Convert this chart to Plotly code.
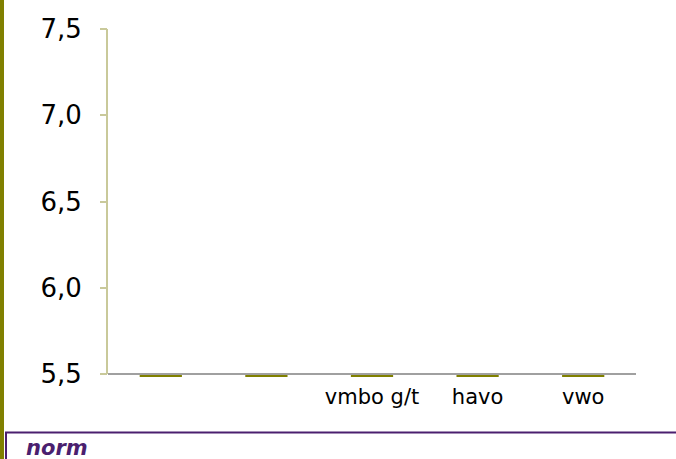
import plotly.graph_objects as go

# Data
categories = ["", "", "vmbo g/t", "havo", "vwo"]
values = [5.5, 5.5, 5.5, 5.5, 5.5]
y_ticks = [5.5, 6.0, 6.5, 7.0, 7.5]
legend_label = "norm"

W, H = 676, 459
ml, mr, mt, mb = 108, 40, 29, 82
pw = W - ml - mr
ph = H - mt - mb
y_min, y_max = 5.5, 7.5
px_per_unit = 345 / (y_max - y_min)
y_lo = y_min - 3 / px_per_unit  # a few pixels below the axis so the flat bars show under it

x_pos = list(range(len(categories)))

fig = go.Figure()
fig.add_trace(go.Bar(
    x=x_pos, y=values, width=0.4,
    marker=dict(color="#808000", line=dict(width=0)),
    showlegend=False, hoverinfo="skip",
))

fig.update_layout(
    width=W, height=H,
    margin=dict(l=ml, r=mr, t=mt, b=mb, pad=0),
    paper_bgcolor="white", plot_bgcolor="white",
    separators=",.",
    font=dict(family="DejaVu Sans, Verdana, sans-serif", color="#000000"),
    xaxis=dict(
        range=[-0.5, len(categories) - 0.5],
        tickmode="array", tickvals=x_pos, ticktext=categories,
        showgrid=False, zeroline=False, showline=False,
        ticks="", tickfont=dict(size=21, color="#000000"),
        ticklabelstandoff=5,
    ),
    yaxis=dict(
        range=[y_lo, y_max], tickmode="array", tickvals=y_ticks,
        tickformat=".1f",
        showgrid=False, zeroline=False, showline=False,
        ticks="outside", ticklen=7, tickcolor="#c9c99a", tickwidth=2,
        tickfont=dict(size=26, color="#000000"),
        ticklabelstandoff=13,
    ),
    shapes=[
        # value axis line (5.5 to 7.5)
        dict(type="line", xref="paper", yref="y", xsizemode="pixel", xanchor=0,
             x0=-1, x1=-1, y0=y_min, y1=y_max,
             line=dict(color="#c9c99a", width=2), layer="above"),
        # category axis line at 5.5, drawn over the flat bars
        dict(type="line", xref="paper", yref="y",
             x0=0, x1=1, y0=y_min, y1=y_min,
             line=dict(color="#a0a0a0", width=2), layer="above"),
        # olive strip on the left edge
        dict(type="rect", xref="paper", yref="paper",
             x0=-ml / pw, x1=(-ml + 4) / pw, y0=-mb / ph - 0.01, y1=1 + mt / ph + 0.01,
             fillcolor="#808000", line=dict(width=0), layer="above"),
        # purple legend box
        dict(type="rect", xref="paper", yref="paper",
             x0=(-ml + 6) / pw, x1=(W - ml + 5) / pw,
             y0=-(432.5 - mt - ph) / ph - 0.2, y1=-(432.5 - mt - ph) / ph,
             line=dict(color="#4b1f6f", width=2), fillcolor="rgba(0,0,0,0)",
             layer="above"),
    ],
    annotations=[
        dict(text=legend_label, xref="paper", yref="paper",
             x=(-ml + 24) / pw, y=-(448 - mt - ph) / ph,
             xanchor="left", yanchor="middle", showarrow=False,
             font=dict(size=21, color="#4b1f6f", weight="bold", style="italic")),
    ],
)

fig.write_html(
    "out.html",
    config={"displayModeBar": False},
    post_script="document.body.style.margin='0';document.body.style.padding='0';",
)
